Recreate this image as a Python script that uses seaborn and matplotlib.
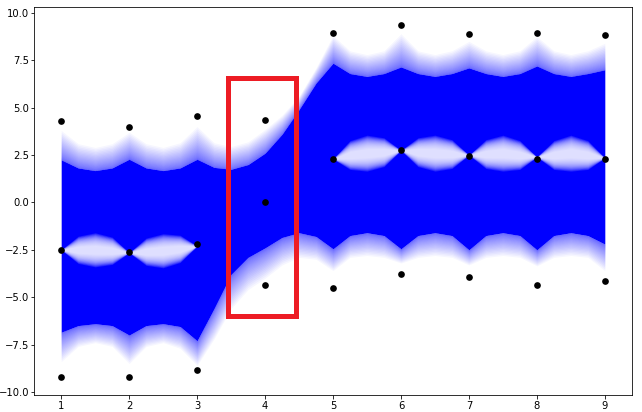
import numpy as np
import seaborn as sns
import matplotlib

matplotlib.use("Agg")
import matplotlib.pyplot as plt
from matplotlib.patches import Rectangle

# sample grid for the band outline (every quarter step)
band_x = [1, 1.25, 1.5, 1.75, 2, 2.25, 2.5, 2.75, 3, 3.25, 3.5, 3.75, 4,
          4.25, 4.5, 4.75, 5, 5.25, 5.5, 5.75, 6, 6.25, 6.5, 6.75, 7,
          7.25, 7.5, 7.75, 8, 8.25, 8.5, 8.75, 9]

# solid part of the band
core_hi = [2.25, 1.82, 1.68, 1.82, 2.28, 1.82, 1.68, 1.82, 2.28, 1.85, 1.75, 2.0, 2.6,
           3.6, 4.9, 6.3, 7.35, 6.8, 6.65, 6.8, 7.15, 6.8, 6.65, 6.8, 7.1,
           6.8, 6.65, 6.8, 7.2, 6.8, 6.65, 6.8, 7.0]
core_lo = [-6.85, -6.5, -6.4, -6.5, -7.0, -6.5, -6.4, -6.55, -7.3, -5.6, -3.8, -2.9, -2.4,
           -1.85, -1.6, -1.8, -2.45, -1.75, -1.6, -1.75, -2.45, -1.75, -1.6, -1.75, -2.5,
           -1.75, -1.6, -1.75, -2.5, -1.75, -1.6, -1.75, -2.2]

# faint outer edge of the band
outer_hi = [3.8, 3.1, 2.9, 3.1, 3.7, 3.1, 2.9, 3.15, 4.0, 3.15, 2.95, 3.2, 3.85,
            4.6, 5.6, 7.1, 8.8, 8.0, 7.8, 8.0, 8.9, 8.0, 7.8, 8.0, 8.5,
            8.0, 7.8, 8.0, 8.75, 8.0, 7.8, 8.0, 8.4]
outer_lo = [-8.4, -7.6, -7.4, -7.6, -8.5, -7.6, -7.4, -7.7, -8.6, -7.2, -5.6, -4.6, -4.0,
            -3.3, -2.9, -3.0, -3.6, -2.9, -2.8, -2.9, -3.2, -2.9, -2.8, -2.9, -3.3,
            -2.9, -2.8, -2.9, -3.35, -2.9, -2.8, -2.9, -3.6]

# gaps ("eyes") inside the band
eye_left_x = [1, 1.25, 1.5, 1.75, 2, 2.25, 2.5, 2.75, 3]
eye_left_mid = [-2.5, -2.5, -2.5, -2.55, -2.65, -2.6, -2.55, -2.45, -2.3]
eye_left_half = [0.0, 0.72, 0.9, 0.72, 0.0, 0.72, 0.9, 0.72, 0.0]

eye_right_x = [5, 5.25, 5.5, 5.75, 6, 6.25, 6.5, 6.75, 7,
               7.25, 7.5, 7.75, 8, 8.25, 8.5, 8.75, 9]
eye_right_mid = [2.3, 2.5, 2.6, 2.65, 2.75, 2.65, 2.6, 2.55, 2.5,
                 2.55, 2.6, 2.5, 2.4, 2.5, 2.6, 2.5, 2.35]
eye_right_half = [0.0, 0.76, 0.95, 0.76, 0.0, 0.76, 0.95, 0.76, 0.0,
                  0.76, 0.95, 0.76, 0.0, 0.76, 0.95, 0.76, 0.0]

# observed points
obs_x = [1, 2, 3, 4, 5, 6, 7, 8, 9]
obs_top = [4.28, 3.96, 4.54, 4.33, 8.95, 9.37, 8.9, 8.95, 8.85]
obs_mid = [-2.49, -2.6, -2.18, 0.0, 2.28, 2.76, 2.44, 2.28, 2.28]
obs_bot = [-9.21, -9.2, -8.85, -4.38, -4.49, -3.75, -3.96, -4.38, -4.17]

BLUE = "#0000ff"

fig = plt.figure(figsize=(642 / 72, 412 / 72), dpi=72)
ax = fig.add_axes([34 / 642, 17 / 412, 598 / 642, 388 / 412])

bx = np.array(band_x)
chi, clo = np.array(core_hi), np.array(core_lo)
ohi, olo = np.array(outer_hi), np.array(outer_lo)

# faded fringe: stacked translucent layers, denser next to the solid core
n_layers = 24
for i in range(1, n_layers + 1):
    t = (i / n_layers) ** 1.6
    ax.fill_between(bx, chi, chi + t * (ohi - chi), color=BLUE, alpha=0.036, lw=0)
    ax.fill_between(bx, clo + t * (olo - clo), clo, color=BLUE, alpha=0.036, lw=0)
ax.fill_between(bx, clo, chi, color=BLUE, lw=0)

# the eyes: white layers, whitest in the middle
for ex, em, eh in [(eye_left_x, eye_left_mid, eye_left_half),
                   (eye_right_x, eye_right_mid, eye_right_half)]:
    ex, em, eh = np.array(ex), np.array(em), np.array(eh)
    for i in range(16):
        s = 1.0 - i * 0.05
        ax.fill_between(ex, em - s * eh, em + s * eh, color="white", alpha=0.13, lw=0)

for ys in (obs_top, obs_mid, obs_bot):
    sns.scatterplot(x=obs_x, y=ys, ax=ax, color="black", s=45, edgecolor="black",
                    linewidth=0, zorder=5)

ax.add_patch(Rectangle((3.45, -6.0), 1.0, 12.55, fill=False, edgecolor="#ed1c24",
                       lw=5, zorder=6))

ax.set_xlim(0.6, 9.4)
ax.set_ylim(-10.16, 10.31)
ax.set_xticks(obs_x)
ax.set_yticks(np.arange(-10, 10.1, 2.5))
ax.tick_params(labelsize=10)
ax.tick_params(axis="x", pad=2.5)
ax.tick_params(axis="y", pad=1.5)

fig.savefig("out.png", dpi=72)
